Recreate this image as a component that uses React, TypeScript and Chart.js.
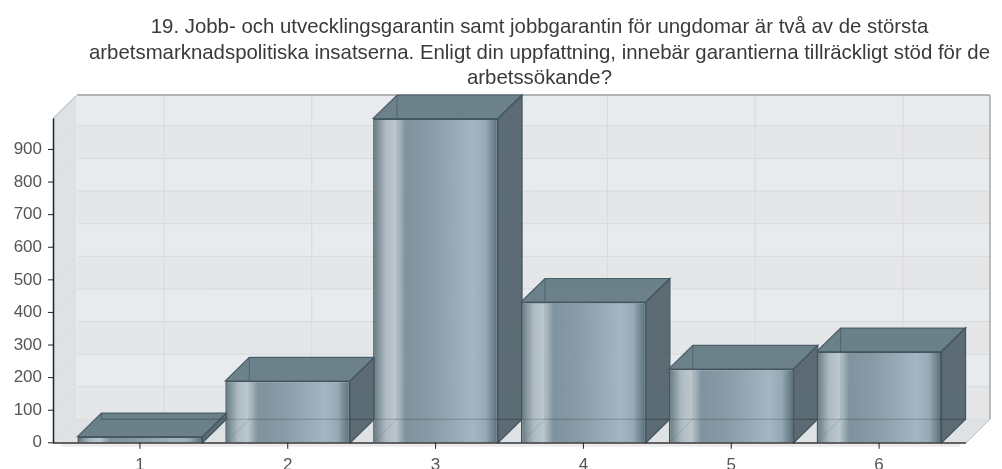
import { useEffect, useRef } from "react";
import { Chart, registerables } from "chart.js";

Chart.register(...registerables);

const categories = ["1", "2", "3", "4", "5", "6"];
const responses = [19, 190, 995, 432, 227, 280];
const yTickValues = [0, 100, 200, 300, 400, 500, 600, 700, 800, 900];
const axisMax = 995;
const titleLines = [
  "19. Jobb- och utvecklingsgarantin samt jobbgarantin för ungdomar är två av de största",
  "arbetsmarknadspolitiska insatserna. Enligt din uppfattning, innebär garantierna tillräckligt stöd för de",
  "arbetssökande?",
];

const DX = 24;
const DY = 23.5;
const AXIS_OVERHANG = 13;

function poly(ctx: CanvasRenderingContext2D, pts: number[][], fill?: string, stroke?: string, lw = 1) {
  ctx.beginPath();
  pts.forEach((p, i) => (i ? ctx.lineTo(p[0], p[1]) : ctx.moveTo(p[0], p[1])));
  ctx.closePath();
  if (fill) {
    ctx.fillStyle = fill;
    ctx.fill();
  }
  if (stroke) {
    ctx.strokeStyle = stroke;
    ctx.lineWidth = lw;
    ctx.stroke();
  }
}

function line(ctx: CanvasRenderingContext2D, x1: number, y1: number, x2: number, y2: number, c: string, lw = 1) {
  ctx.beginPath();
  ctx.moveTo(x1, y1);
  ctx.lineTo(x2, y2);
  ctx.strokeStyle = c;
  ctx.lineWidth = lw;
  ctx.stroke();
}

const box3d = {
  id: "box3d",
  afterLayout(chart: any) {
    // the title is centred over the whole plot box, depth included
    chart.titleBlock.left = 77;
    chart.titleBlock.right = 1002;
  },
  beforeDatasetsDraw(chart: any) {
    const { ctx, chartArea: a, scales } = chart;
    const y = scales.y;
    const x = scales.x;
    const L = a.left - AXIS_OVERHANG;
    const R = a.right + AXIS_OVERHANG;
    const T = a.top;
    const B = a.bottom;
    ctx.save();
    // soft shadow under the front floor edge
    line(ctx, L + 8, B + 2.5, R - 6, B + 2.5, "rgba(120,120,120,0.14)", 3);
    // side wall and floor
    poly(ctx, [[L, T], [L + DX, T - DY], [L + DX, B - DY], [L, B]], "#dee2e5");
    poly(ctx, [[L, B], [L + DX, B - DY], [R + DX, B - DY], [R, B]], "#dee2e5");
    // back wall bands
    poly(ctx, [[L + DX, T - DY], [R + DX, T - DY], [R + DX, B - DY], [L + DX, B - DY]], "#e7ebee");
    const bands = [...yTickValues, axisMax];
    bands.slice(0, -1).forEach((v, i) => {
      if (i % 2 === 0) {
        const top = y.getPixelForValue(bands[i + 1]) - DY;
        const bot = y.getPixelForValue(v) - DY;
        ctx.fillStyle = "#e5e6e7";
        ctx.fillRect(L + DX, top, R - L, bot - top);
      }
    });
    // grid lines
    yTickValues.forEach((v) => {
      const py = y.getPixelForValue(v);
      line(ctx, L + DX, py - DY, R + DX, py - DY, "#d8dadc", 1);
      line(ctx, L, py, L + DX, py - DY, "#d9dde0", 1);
    });
    categories.forEach((_, i) => {
      const px = x.getPixelForValue(i) + DX;
      line(ctx, px, T - DY, px, B - DY, "#d8dadc", 1);
    });
    // outline
    line(ctx, L, T, L + DX, T - DY, "#a8abad", 1);
    line(ctx, L + DX, T - DY, R + DX, T - DY, "#9e9e9e", 1.5);
    line(ctx, R + DX, T - DY, R + DX, B - DY, "#a8a8a8", 1.5);
    line(ctx, R + DX, B - DY, R, B, "#b8b8b8", 1);
    line(ctx, L + DX, T - DY, L + DX, B - DY, "#eceff1", 1);
    // 3D faces of the bars
    const meta = chart.getDatasetMeta(0);
    meta.data.forEach((b: any) => {
      const l = b.x - b.width / 2;
      const r = b.x + b.width / 2;
      const t = b.y;
      const bt = b.base;
      poly(ctx, [[l, t], [l + DX, t - DY], [r + DX, t - DY], [r, t]], "rgba(98,120,130,0.93)", "#4a5f69", 1.2);
      poly(ctx, [[r, t], [r + DX, t - DY], [r + DX, bt - DY], [r, bt]], "rgba(82,98,106,0.93)", "#43565f", 1.2);
      line(ctx, l + DX, t - DY, l + DX, Math.min(t, bt - DY), "rgba(60,80,90,0.6)", 1);
      line(ctx, l + DX, bt - DY, r + DX, bt - DY, "rgba(60,80,90,0.7)", 1);
    });
    ctx.restore();
  },
  afterDatasetsDraw(chart: any) {
    const { ctx, chartArea: a, scales } = chart;
    const y = scales.y;
    const x = scales.x;
    const L = a.left - AXIS_OVERHANG;
    const R = a.right + AXIS_OVERHANG;
    const B = a.bottom;
    ctx.save();
    // see-through back edges of the translucent bars
    const meta = chart.getDatasetMeta(0);
    meta.data.forEach((b: any) => {
      const l = b.x - b.width / 2;
      const r = b.x + b.width / 2;
      line(ctx, l, b.base, l + DX, b.base - DY, "rgba(70,90,100,0.22)", 1);
      if (b.y < b.base - DY) line(ctx, l + DX, b.y, l + DX, b.base - DY, "rgba(70,90,100,0.1)", 1);
      if (b.y < b.base - DY) line(ctx, l, b.base - DY, r + DX, b.base - DY, "rgba(50,70,80,0.3)", 1);
    });
    // axes
    line(ctx, L + 0.5, a.top, L + 0.5, B + 0.5, "#222", 1.5);
    line(ctx, L, B + 0.2, R, B + 0.2, "#333", 1.5);
    yTickValues.forEach((v) => {
      const py = y.getPixelForValue(v);
      line(ctx, L - 5, py, L, py, "#222", 1);
    });
    categories.forEach((_, i) => {
      const px = x.getPixelForValue(i);
      line(ctx, px, B, px, B + 6, "#222", 1);
    });
    ctx.restore();
  },
};

export default function App() {
  const ref = useRef<HTMLCanvasElement>(null);
  useEffect(() => {
    const canvas = ref.current!;
    const ctx = canvas.getContext("2d")!;
    const chart = new Chart(ctx, {
      type: "bar",
      plugins: [box3d],
      data: {
        labels: categories,
        datasets: [
          {
            data: responses,
            categoryPercentage: 1,
            barPercentage: 0.845,
            borderColor: "#42565f",
            borderWidth: 1.5,
            backgroundColor: (c: any) => {
              const chartObj = c.chart;
              if (!chartObj.chartArea) return "#8a9ca8";
              const cx = chartObj.scales.x.getPixelForValue(c.dataIndex);
              const w = 62.5;
              const g = chartObj.ctx.createLinearGradient(cx - w, 0, cx + w, 0);
              g.addColorStop(0, "rgba(92,112,122,0.95)");
              g.addColorStop(0.1, "rgba(170,184,190,0.95)");
              g.addColorStop(0.18, "rgba(186,198,203,0.95)");
              g.addColorStop(0.26, "rgba(122,143,155,0.95)");
              g.addColorStop(0.45, "rgba(130,150,162,0.95)");
              g.addColorStop(0.8, "rgba(160,179,192,0.95)");
              g.addColorStop(0.9, "rgba(146,166,178,0.95)");
              g.addColorStop(1, "rgba(78,102,114,0.95)");
              return g;
            },
          },
        ],
      },
      options: {
        responsive: false,
        animation: false,
        layout: { autoPadding: false, padding: { left: 0, right: 49, top: 0, bottom: 0 } },
        plugins: {
          legend: { display: false },
          tooltip: { enabled: false },
          title: {
            display: true,
            text: titleLines,
            color: "#3a3a3a",
            font: { family: "'Liberation Sans', Arial, sans-serif", size: 20.4, weight: "normal", lineHeight: 1.25 },
            padding: { top: 15, bottom: 27 },
          },
        },
        scales: {
          x: {
            afterFit: (s: any) => {
              s.height = 32;
            },
            grid: { display: false, drawTicks: false },
            border: { display: false },
            ticks: {
              color: "#555",
              padding: 12,
              font: { family: "'Liberation Sans', Arial, sans-serif", size: 17 },
            },
          },
          y: {
            min: 0,
            max: axisMax,
            afterFit: (s: any) => {
              s.width = 66;
            },
            afterBuildTicks: (s: any) => {
              s.ticks = yTickValues.map((value) => ({ value }));
            },
            grid: { display: false, drawTicks: false },
            border: { display: false },
            ticks: {
              color: "#555",
              padding: 24,
              font: { family: "'Liberation Sans', Arial, sans-serif", size: 17 },
            },
          },
        },
      },
    });
    return () => chart.destroy();
  }, []);
  return (
    <div style={{ position: "absolute", left: 0, top: 0, width: 1002, height: 469, overflow: "hidden", background: "#fff" }}>
      <canvas ref={ref} width={1002} height={477} style={{ display: "block" }} />
    </div>
  );
}
